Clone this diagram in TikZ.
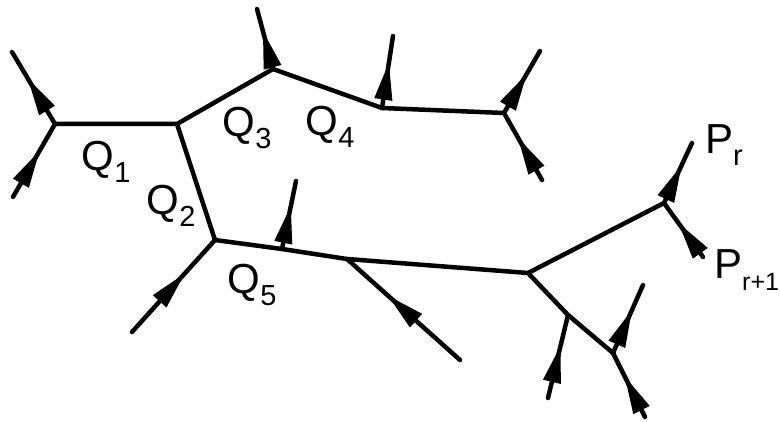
\documentclass[tikz,border=0pt]{standalone}
\usepackage{fontspec}
\setmainfont{Liberation Sans}
\usetikzlibrary{arrows.meta,decorations.markings}
\tikzset{
  edge/.style={line width=4.5pt, line cap=round, line join=round},
  leg/.style={edge, postaction={decorate}, decoration={markings,
     mark=at position #1 with {\arrow{Triangle[length=38pt 0,width=17pt 0]}}}},
  leg/.default=0.64,
  lbl/.style={font=\fontsize{42}{42}\selectfont, inner sep=0pt},
}
\newcommand{\sbs}[1]{\raisebox{-0.28em}{\fontsize{29}{29}\selectfont #1}}
\newcommand{\sbsn}[1]{\raisebox{-0.30em}{\fontsize{25}{25}\selectfont #1}}
\begin{document}
\begin{tikzpicture}[x=1pt,y=-1pt]
\useasboundingbox (0,0) rectangle (780,422);
% vertices
\coordinate (A) at (55,124);
\coordinate (B) at (177,124);
\coordinate (C) at (215,240);
\coordinate (D) at (273,69);
\coordinate (E) at (382,108);
\coordinate (F) at (504,113);
\coordinate (G) at (282,249);
\coordinate (H) at (347,259);
\coordinate (I) at (528,273);
\coordinate (J) at (664,203);
\coordinate (K) at (568,315);
\coordinate (L) at (613,353);
% free ends
\coordinate (a1) at (12,52);
\coordinate (a2) at (13,197);
\coordinate (d1) at (257,9);
\coordinate (e1) at (393,36);
\coordinate (f1) at (540,51);
\coordinate (f2) at (542,180);
\coordinate (c1) at (132,332);
\coordinate (g1) at (296,181);
\coordinate (h1) at (460,360);
\coordinate (j1) at (692,143);
\coordinate (j2) at (703,257);
\coordinate (k1) at (548,398);
\coordinate (l1) at (643,285);
\coordinate (l2) at (645,417);
% internal edges
\draw[edge] (A) -- (B) -- (D) -- (E) -- (F);
\draw[edge] (B) -- (C) -- (G) -- (H) -- (I) -- (J);
\draw[edge] (I) -- (K) -- (L);
% external legs
\draw[leg] (A) -- (a1);
\draw[leg] (a2) -- (A);
\draw[leg] (D) -- (d1);
\draw[leg] (E) -- (e1);
\draw[leg] (F) -- (f1);
\draw[leg] (f2) -- (F);
\draw[leg] (c1) -- (C);
\draw[leg] (G) -- (g1);
\draw[leg] (h1) -- (H);
\draw[leg] (J) -- (j1);
\draw[leg] (j2) -- (J);
\draw[leg] (k1) -- (K);
\draw[leg] (L) -- (l1);
\draw[leg] (l2) -- (L);
% labels
\node[lbl] (q1) at (106,162) {Q\sbs{1}};
\node[lbl] (q2) at (171,206) {Q\sbs{2}};
\node[lbl] (q3) at (247,128) {Q\sbs{3}};
\node[lbl] (q4) at (330,127) {Q\sbs{4}};
\node[lbl] (q5) at (252,285) {Q\sbs{5}};
\node[lbl,anchor=west] (pr) at (705,145) {P\sbs{r}};
\node[lbl,anchor=west] (pr1) at (714,270) {P\sbsn{r+1}};
\end{tikzpicture}
\end{document}
